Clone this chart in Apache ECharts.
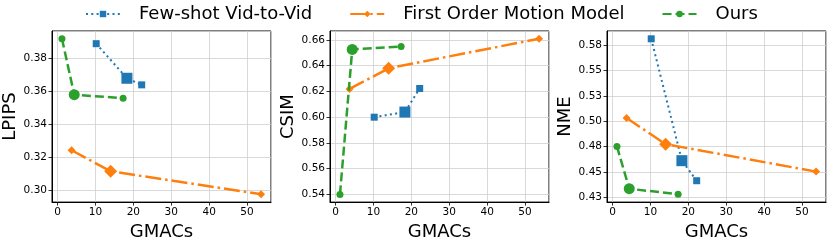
<!DOCTYPE html>
<html><head><meta charset="utf-8">
<script src="https://cdn.jsdelivr.net/npm/echarts@6/dist/echarts.min.js"></script>
<style>html,body{margin:0;padding:0;background:#fff}#c{width:831px;height:246px}</style>
</head><body><div id="c"></div>
<script>
// ---- data ----
const seriesNames = ['Few-shot Vid-to-Vid', 'First Order Motion Model', 'Ours'];
const gmacsFewShot = [10.2, 18.3, 22.2];
const gmacsFOMM = [3.7, 14.0, 53.7];
const gmacsOurs = [1.16, 4.4, 17.3];

const lpipsFewShot = [0.389, 0.368, 0.364];
const lpipsFOMM = [0.3243, 0.3115, 0.2976];
const lpipsOurs = [0.392, 0.358, 0.3559];

const csimFewShot = [0.600, 0.604, 0.6223];
const csimFOMM = [0.622, 0.638, 0.661];
const csimOurs = [0.540, 0.6527, 0.655];

const nmeFewShot = [0.5814, 0.4611, 0.4413];
const nmeFOMM = [0.5032, 0.4774, 0.4503];
const nmeOurs = [0.4752, 0.4334, 0.4279];

const panelNames = ['LPIPS', 'CSIM', 'NME'];
const xAxisName = 'GMACs';
const xTickValues = [0, 10, 20, 30, 40, 50];
const lpipsTickValues = [0.30, 0.32, 0.34, 0.36, 0.38];
const lpipsTickLabels = ['0.30', '0.32', '0.34', '0.36', '0.38'];
const csimTickValues = [0.54, 0.56, 0.58, 0.60, 0.62, 0.64, 0.66];
const csimTickLabels = ['0.54', '0.56', '0.58', '0.60', '0.62', '0.64', '0.66'];
const nmeTickValues = [0.425, 0.45, 0.475, 0.50, 0.525, 0.55, 0.575];
const nmeTickLabels = ['0.43', '0.45', '0.48', '0.50', '0.53', '0.55', '0.58'];

// ---- layout / style ----
const FONT = 'DejaVu Sans';
const colors = ['#1f77b4', '#ff7f0e', '#2ca02c'];
const symbols = ['rect', 'diamond', 'circle'];
const smallSize = [7, 8, 7];
const bigSize = [11, 13, 11];
const lineTypes = [[2, 3.3], [16, 4, 2.5, 4], [9, 4]];
const lineWidths = [2, 2.5, 2.5];

const gridLefts = [52, 330, 607];
const xRange = [-1.47, 56.33];
const yRanges = [[0.2928, 0.3967], [0.534, 0.667], [0.4202, 0.5891]];
const yTicks = [[lpipsTickValues, lpipsTickLabels], [csimTickValues, csimTickLabels], [nmeTickValues, nmeTickLabels]];
const panelData = [
  [lpipsFewShot, lpipsFOMM, lpipsOurs],
  [csimFewShot, csimFOMM, csimOurs],
  [nmeFewShot, nmeFOMM, nmeOurs]
];
const gmacs = [gmacsFewShot, gmacsFOMM, gmacsOurs];

const grids = [], xAxes = [], yAxes = [], series = [];
for (let p = 0; p < 3; p++) {
  grids.push({left: gridLefts[p], top: 31, width: 219, height: 176,
    show: true, borderColor: '#000', borderWidth: 1, containLabel: false});
  const xi = xTickValues[1] - xTickValues[0];
  xAxes.push({type: 'value', gridIndex: p, min: xRange[0], max: xRange[1],
    minInterval: xi, maxInterval: xi,
    name: xAxisName, nameLocation: 'middle', nameGap: 15,
    nameTextStyle: {fontFamily: FONT, fontSize: 18, color: '#000'},
    axisLine: {show: true, onZero: false, lineStyle: {color: '#000', width: 1}},
    axisTick: {show: true, length: 3.5, lineStyle: {color: '#000', width: 0.8}},
    axisLabel: {fontFamily: FONT, fontSize: 10.5, color: '#000', margin: 5,
      showMinLabel: false, showMaxLabel: false,
      formatter: v => {
        const i = xTickValues.findIndex(t => Math.abs(t - v) < 1e-6);
        return i >= 0 ? String(xTickValues[i]) : '';
      }},
    splitLine: {show: true, lineStyle: {color: '#cfcfcf', width: 0.8}}
  });
  const [tv, tl] = yTicks[p];
  const yi = +(tv[1] - tv[0]).toFixed(6);
  yAxes.push({type: 'value', gridIndex: p, min: yRanges[p][0], max: yRanges[p][1],
    minInterval: yi, maxInterval: yi,
    name: panelNames[p], nameLocation: 'middle', nameGap: 28, nameRotate: 90,
    nameTextStyle: {fontFamily: FONT, fontSize: 18, color: '#000'},
    axisLine: {show: true, onZero: false, lineStyle: {color: '#000', width: 1}},
    axisTick: {show: true, length: 3.5, lineStyle: {color: '#000', width: 0.8}},
    axisLabel: {fontFamily: FONT, fontSize: 10.5, color: '#000', margin: 5,
      showMinLabel: false, showMaxLabel: false,
      formatter: v => {
        const i = tv.findIndex(t => Math.abs(t - v) < 1e-6);
        return i >= 0 ? tl[i] : '';
      }},
    splitLine: {show: true, lineStyle: {color: '#cfcfcf', width: 0.8}}
  });
  for (let s = 0; s < 3; s++) {
    const ys = panelData[p][s];
    series.push({
      type: 'line', name: seriesNames[s], xAxisIndex: p, yAxisIndex: p,
      data: gmacs[s].map((x, i) => [x, ys[i]]),
      symbol: symbols[s],
      symbolSize: (val, params) => params.dataIndex === 1 ? bigSize[s] : smallSize[s],
      showAllSymbol: true,
      itemStyle: {color: colors[s]},
      lineStyle: {color: colors[s], width: lineWidths[s], type: lineTypes[s]},
      emphasis: {disabled: true},
      animation: false,
      z: 2 + s
    });
  }
}

const chart = echarts.init(document.getElementById('c'), null, {renderer: 'canvas'});
chart.setOption({
  animation: false,
  backgroundColor: '#fff',
  legend: {
    data: seriesNames,
    left: 80, top: 0,
    itemWidth: 34, itemHeight: 8, itemGap: 37,
    textStyle: {fontFamily: FONT, fontSize: 18, color: '#000', padding: [0, 0, 0, 14]}
  },
  grid: grids,
  xAxis: xAxes,
  yAxis: yAxes,
  series: series
});
</script>
</body></html>
